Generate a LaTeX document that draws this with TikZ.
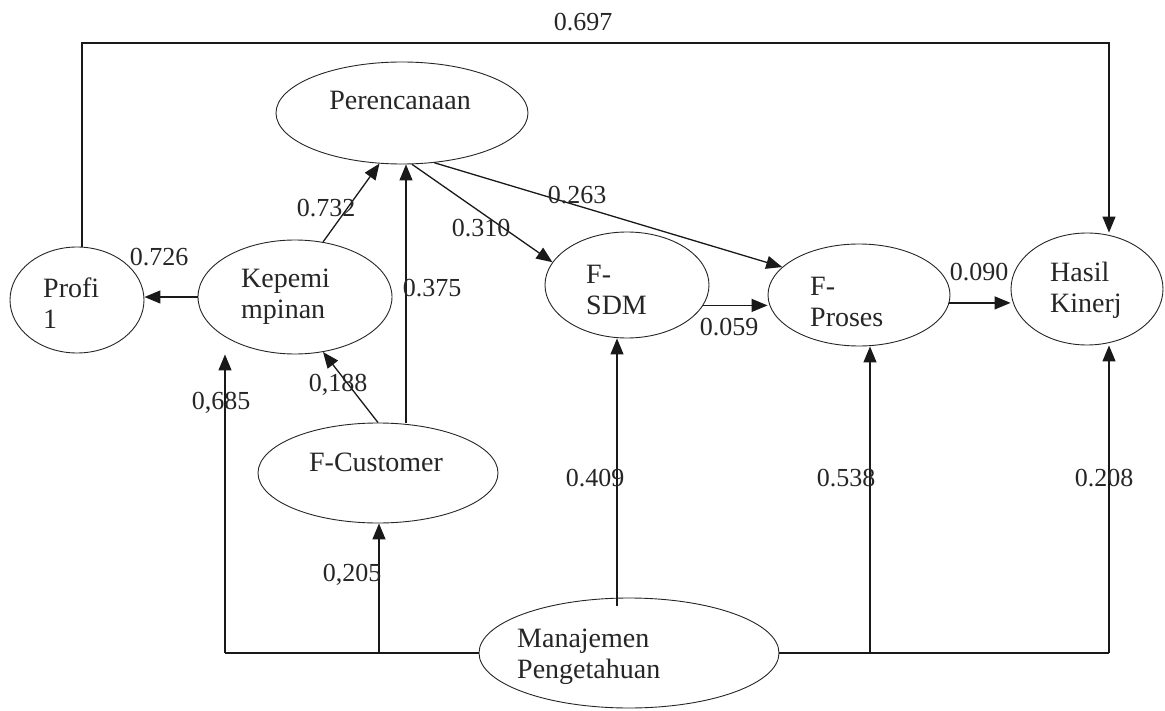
\documentclass[tikz,border=0pt]{standalone}
\usepackage{fontspec}
\setmainfont{Liberation Serif}
\usetikzlibrary{shapes.geometric,arrows.meta}
\begin{document}
\begin{tikzpicture}[x=1pt,y=-1pt,
 ell/.style={draw=black!85, ellipse, line width=0.9pt, inner sep=0pt},
 txt/.style={font=\fontsize{28}{31}\selectfont, inner sep=0pt, align=left, text=black!85},
 ntxt/.style={font=\fontsize{28}{31}\selectfont, inner sep=0pt, text=black!85},
 lbl/.style={font=\fontsize{26}{30}\selectfont, inner sep=0pt, text=black!85},
 conn/.style={line width=1.3pt, draw=black!90},
 arr/.style={conn, -{Triangle[length=16pt,width=13pt]}}]
\useasboundingbox[fill=white] (0,0) rectangle (1165,711);

% ellipses
\node[ell, minimum width=252pt, minimum height=102pt] (per) at (402,113) {};
\node[ell, minimum width=134pt, minimum height=106pt] (pro1) at (77,300) {};
\node[ell, minimum width=194pt, minimum height=114pt] (kep) at (295,297) {};
\node[ell, minimum width=164pt, minimum height=106pt] (sdm) at (627,285) {};
\node[ell, minimum width=182pt, minimum height=102pt] (prs) at (859,295) {};
\node[ell, minimum width=152pt, minimum height=112pt] (has) at (1087,289) {};
\node[ell, minimum width=240pt, minimum height=100pt] (cus) at (378,473) {};
\node[ell, minimum width=300pt, minimum height=110pt] (man) at (629,653) {};

% texts in ellipses
\node[ntxt] (pert) at (400,100) {Perencanaan};
\node[txt, anchor=west] (pro1t) at (43,303) {Profi\\1};
\node[txt, anchor=west] (kept) at (241,297) {Kepemi\\mpinan};
\node[txt, anchor=west] (sdmt) at (586,290) {F-\\SDM};
\node[txt, anchor=west] (prst) at (810,302) {F-\\Proses};
\node[txt, anchor=west] (hast) at (1050,290) {Hasil\\Kinerj};
\node[ntxt] (cust) at (376,462) {F-Customer};
\node[txt, anchor=west] (mant) at (517,657) {Manajemen\\Pengetahuan};

% coordinates for bends
\coordinate (tl) at (82,43);
\coordinate (tr) at (1109,43);
\coordinate (bl) at (225,653);
\coordinate (bc) at (379,653);
\coordinate (bp) at (870,653);
\coordinate (br) at (1109,653);

% connectors
\draw[arr] (pro1.north -| tl) -- (tl) -- (tr) -- (tr |- has.north);
\draw[arr] (kep.63) -- (per.-114);
\draw[arr] ([xshift=28pt]cus.north) -- ([xshift=4pt]per.south);
\draw[arr] (per.-79) -- (sdm.163);
\draw[arr] (per.-57) -- (prs.160);
\draw[arr] (kep.west) -- (kep.west -| pro1.east);
\draw[arr] (cus.north) -- (kep.-63);
\draw[arr] (sdm.-15) -- (sdm.-15 -| prs.west);
\draw[arr] (prs.-5) -- (prs.-5 -| has.west);

\draw[conn] (man.west) -- (bl);
\draw[conn] (man.east) -- (br);
\draw[arr] (bl) -- (bl |- kep.south);
\draw[arr] (bc) -- (bc |- cus.south);
\draw[arr] ([xshift=-12pt,yshift=-8pt]man.north) -- ([xshift=-10pt]sdm.south);
\draw[arr] (bp) -- (bp |- prs.south);
\draw[arr] (br) -- (br |- has.south);

% labels
\node[lbl] (l697) at (583,22) {0.697};
\node[lbl] (l732) at (326,208) {0.732};
\node[lbl] (l375) at (432,288) {0.375};
\node[lbl] (l310) at (481,228) {0.310};
\node[lbl] (l263) at (577,195) {0.263};
\node[lbl] (l726) at (159,257) {0.726};
\node[lbl] (l188) at (338,385) {0,188};
\node[lbl] (l685) at (221,403) {0,685};
\node[lbl] (l205) at (352,575) {0,205};
\node[lbl] (l409) at (595,478) {0.409};
\node[lbl] (l538) at (846,478) {0.538};
\node[lbl] (l208) at (1104,478) {0.208};
\node[lbl] (l059) at (729,327) {0.059};
\node[lbl] (l090) at (979,272) {0.090};
\end{tikzpicture}
\end{document}
